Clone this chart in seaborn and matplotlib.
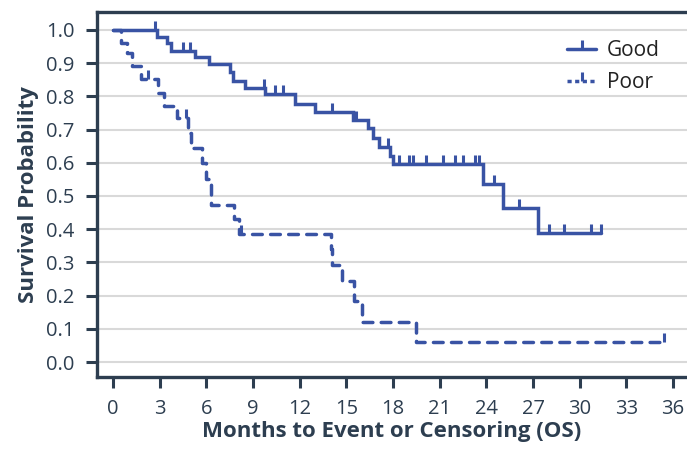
import matplotlib
matplotlib.use("Agg")
import matplotlib.pyplot as plt
from matplotlib.lines import Line2D
import seaborn as sns
import numpy as np
import pandas as pd

# Kaplan-Meier steps (months, survival probability)
good_t = [0, 2.8, 3.5, 3.7, 5.25, 6.2, 7.5, 7.7, 8.5, 9.8, 11.7, 13.0, 15.4,
          16.4, 16.7, 17.1, 17.8, 18.0, 23.8, 25.1, 27.3, 31.4]
good_s = [1.0, 0.98, 0.96, 0.938, 0.917, 0.898, 0.874, 0.847, 0.826, 0.806,
          0.778, 0.752, 0.73, 0.705, 0.676, 0.648, 0.62, 0.595, 0.535, 0.465,
          0.39, 0.39]
good_cens = [2.7, 4.5, 4.95, 9.7, 10.4, 10.9, 14.1, 15.6, 17.7, 18.4, 19.0,
             19.3, 20.1, 21.2, 22.0, 22.5, 23.3, 23.5, 24.5, 26.1, 28.0, 29.0,
             30.7, 31.4]

poor_t = [0, 0.5, 0.9, 1.2, 1.8, 2.9, 3.3, 4.1, 4.85, 5.0, 5.7, 6.0, 6.3,
          7.8, 8.1, 14.0, 14.1, 14.7, 15.5, 16.0, 19.5, 35.4]
poor_s = [1.0, 0.96, 0.93, 0.89, 0.853, 0.81, 0.772, 0.736, 0.69, 0.643, 0.6,
          0.55, 0.474, 0.43, 0.387, 0.34, 0.293, 0.245, 0.184, 0.122, 0.061,
          0.061]
poor_cens = [2.25, 4.7, 8.2, 35.4]

groups = ["Good", "Poor"]
x_ticks = list(range(0, 37, 3))
y_ticks = [i / 10 for i in range(11)]

BLUE = "#3953a4"
DARK = "#2d3e50"
GRID = "#d9d9d9"

df = pd.concat([
    pd.DataFrame({"months": good_t, "surv": good_s, "group": "Good"}),
    pd.DataFrame({"months": poor_t, "surv": poor_s, "group": "Poor"}),
])

sns.set_style("white")
plt.rcParams["font.family"] = ["Open Sans", "DejaVu Sans"]

fig = plt.figure(figsize=(6.87, 4.49), dpi=100)
ax = fig.add_axes([0.1412, 0.1604, 0.8588, 0.8129])

for y in y_ticks:
    ax.axhline(y, color=GRID, lw=1.5, zorder=0)

dash_map = {"Good": "", "Poor": (2.8, 2.4)}
sns.lineplot(data=df, x="months", y="surv", hue="group", style="group",
             palette={"Good": BLUE, "Poor": BLUE}, dashes=dash_map,
             estimator=None, sort=False, drawstyle="steps-post",
             lw=2.5, legend=False, ax=ax)
for line in ax.get_lines():
    line.set_dash_capstyle("round")
    line.set_solid_capstyle("round")
    line.set_solid_joinstyle("miter")


def at(times, t, s):
    idx = np.searchsorted(t, times, side="right") - 1
    return np.array(s)[idx]


ax.plot(good_cens, at(good_cens, good_t, good_s), ls="none", marker=2,
        ms=6.5, mew=2.2, color=BLUE)
ax.plot(poor_cens, at(poor_cens, poor_t, poor_s), ls="none", marker=2,
        ms=6.5, mew=2.2, color=BLUE)

ax.set_xlim(-1.03, 36.9)
ax.set_ylim(-0.045, 1.054)
ax.set_xticks(x_ticks)
ax.set_yticks(y_ticks)
ax.set_yticklabels([f"{v:.1f}" for v in y_ticks])

for side in ["left", "bottom", "top"]:
    ax.spines[side].set_visible(True)
    ax.spines[side].set_color(DARK)
    ax.spines[side].set_linewidth(2.4)
ax.spines["right"].set_visible(False)

ax.tick_params(axis="both", direction="out", length=8, width=2.2,
               color=DARK, labelcolor=DARK, labelsize=14.5, pad=8)
ax.tick_params(left=True, bottom=True)

ax.set_xlabel("Months to Event or Censoring (OS)", fontsize=16,
              fontweight="bold", color=DARK, labelpad=1)
ax.set_ylabel("Survival Probability", fontsize=16, fontweight="bold",
              color=DARK, labelpad=5)

handles = [
    Line2D([], [], color=BLUE, lw=2.5, marker=2, ms=6.5, mew=2.2),
    Line2D([], [], color=BLUE, lw=2.5, ls=(0, (1.2, 1.0)), marker=2, ms=6.5,
           mew=2.2),
]
ax.legend(handles, groups, loc="upper right", bbox_to_anchor=(0.985, 0.975),
          frameon=False, fontsize=15, handlelength=1.4, handletextpad=0.5,
          labelspacing=0.55, labelcolor="#222222")

fig.savefig("out.png", dpi=100)
